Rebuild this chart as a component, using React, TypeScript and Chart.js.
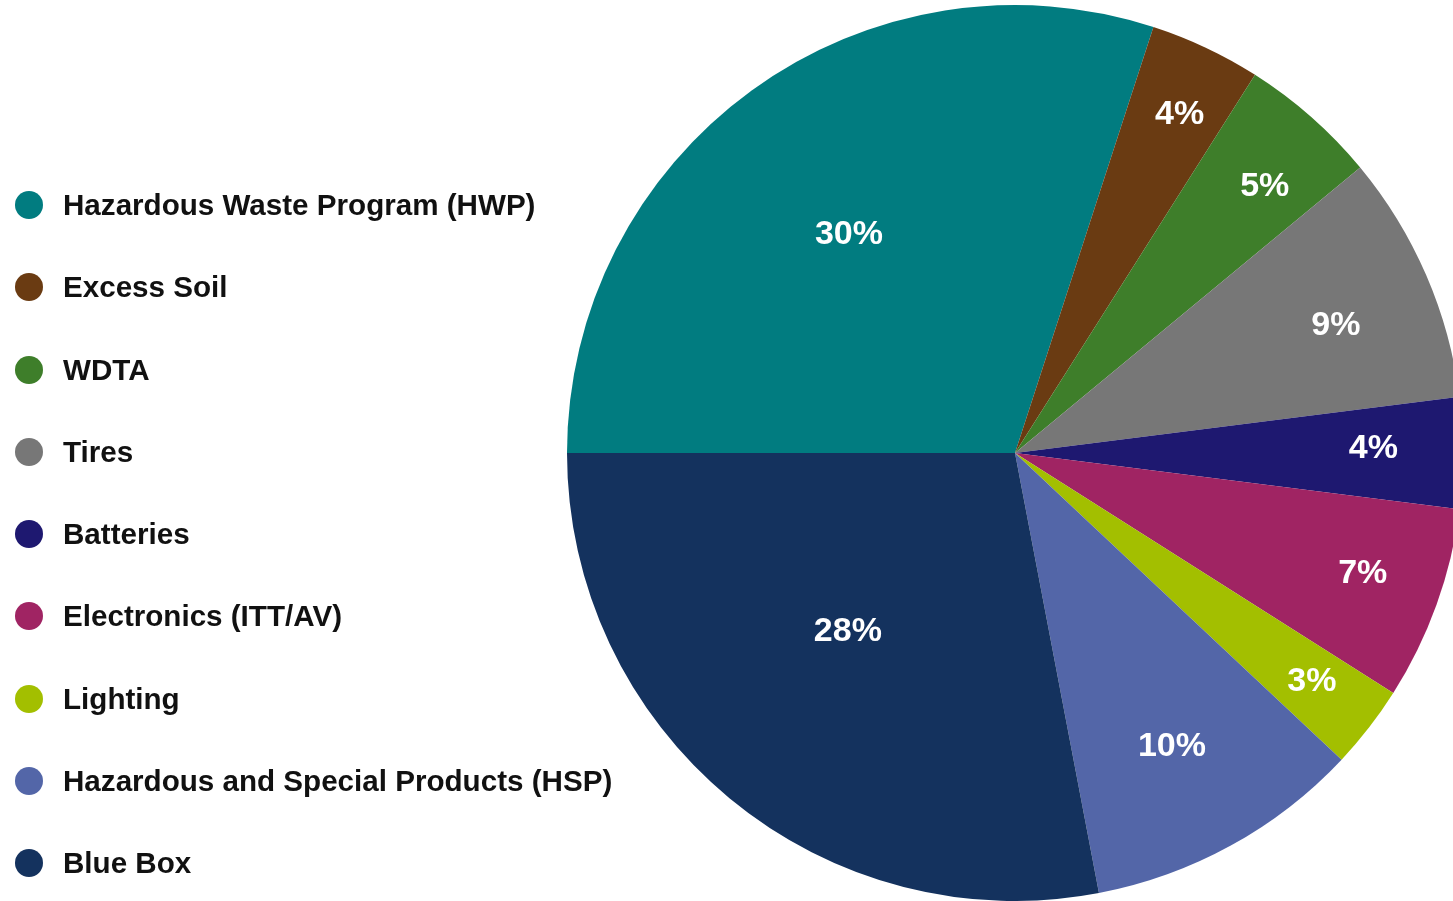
import React, { useEffect, useRef } from "react";
import { Chart, registerables } from "chart.js";

Chart.register(...registerables);

const categories = [
  "Hazardous Waste Program (HWP)",
  "Excess Soil",
  "WDTA",
  "Tires",
  "Batteries",
  "Electronics (ITT/AV)",
  "Lighting",
  "Hazardous and Special Products (HSP)",
  "Blue Box",
];
const shares = [30, 4, 5, 9, 4, 7, 3, 10, 28];
const colors = [
  "#017C80",
  "#6A3B12",
  "#3E7E2A",
  "#777777",
  "#1E1870",
  "#A02463",
  "#A3BF00",
  "#5366A8",
  "#14325E",
];

const FONT = "'Liberation Sans', Arial, Helvetica, sans-serif";

// label placement style (fraction of radius, angle tweak in degrees)
const labelRadiusFactor = [0.616, 0.844, 0.819, 0.772, 0.8, 0.82, 0.833, 0.739, 0.542];
const labelAngleTweak = [-1, 0.6, 1.5, 1.5, -1, -1, -0.5, 0.5, 3.9];

const labelPlugin = {
  id: "sliceLabels",
  afterDatasetsDraw(chart: any) {
    const ctx = chart.ctx;
    const meta = chart.getDatasetMeta(0);
    const data = chart.data.datasets[0].data as number[];
    const total = data.reduce((a, b) => a + b, 0);
    ctx.save();
    ctx.fillStyle = "#ffffff";
    ctx.font = `bold 34px ${FONT}`;
    ctx.textAlign = "center";
    ctx.textBaseline = "middle";
    meta.data.forEach((arc: any, i: number) => {
      const p = arc.getProps(["x", "y", "startAngle", "endAngle", "outerRadius"], true);
      const mid = (p.startAngle + p.endAngle) / 2 + (labelAngleTweak[i] * Math.PI) / 180;
      const pct = (data[i] / total) * 100;
      const r = p.outerRadius * labelRadiusFactor[i];
      ctx.fillText(`${Math.round(pct)}%`, p.x + Math.cos(mid) * r, p.y + Math.sin(mid) * r + 2);
    });
    ctx.restore();
  },
};

export default function App() {
  const ref = useRef<HTMLCanvasElement | null>(null);
  useEffect(() => {
    if (!ref.current) return;
    const chart = new Chart(ref.current, {
      type: "pie",
      data: {
        labels: categories,
        datasets: [
          {
            data: shares,
            backgroundColor: colors,
            borderWidth: 0,
          },
        ],
      },
      options: {
        animation: false,
        responsive: false,
        rotation: -90,
        layout: { padding: { left: 567, right: 7, top: 5, bottom: 0 } },
        plugins: {
          legend: { display: false },
          tooltip: { enabled: false },
        },
      },
      plugins: [labelPlugin],
    });
    return () => chart.destroy();
  }, []);

  return (
    <div
      style={{
        position: "fixed",
        left: 0,
        top: 0,
        width: 1453,
        height: 901,
        overflow: "hidden",
        background: "#ffffff",
      }}
    >
      <canvas
        ref={ref}
        width={1470}
        height={901}
        style={{ position: "absolute", left: 0, top: 0, width: 1470, height: 901 }}
      />
      {categories.map((c, i) => (
        <div
          key={c}
          style={{
            position: "absolute",
            left: 0,
            top: 205 + i * 82.25 - 20,
            height: 40,
            whiteSpace: "nowrap",
          }}
        >
          <span
            style={{
              position: "absolute",
              left: 15,
              top: 6,
              width: 28,
              height: 28,
              borderRadius: "50%",
              background: colors[i],
            }}
          />
          <span
            style={{
              position: "absolute",
              left: 63,
              top: 3,
              lineHeight: "40px",
              font: `bold 29.6px ${FONT}`,
              color: "#111111",
            }}
          >
            {c}
          </span>
        </div>
      ))}
    </div>
  );
}
